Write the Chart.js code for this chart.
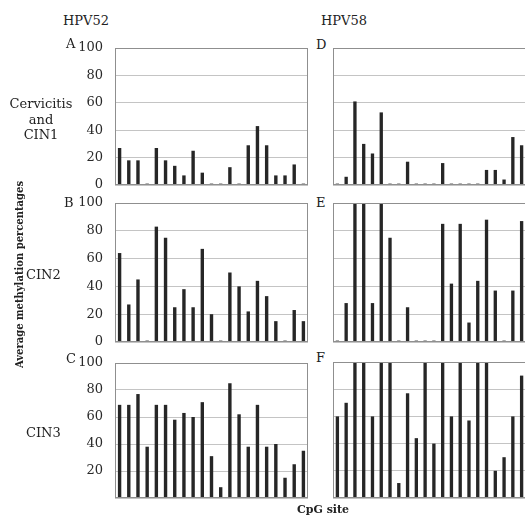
<!DOCTYPE html>
<html>
<head>
<meta charset="utf-8">
<script src="https://cdn.jsdelivr.net/npm/chart.js@4.4.1/dist/chart.umd.min.js"></script>
<style>
  html, body { margin: 0; padding: 0; background: #ffffff; }
  body { width: 525px; height: 515px; position: relative; overflow: hidden; font-family: 'DejaVu Serif', serif; color: #222; }
  .cv { position: absolute; }
  .t { position: absolute; font-size: 13px; white-space: nowrap; line-height: 1; }
  .b { font-weight: bold; font-size: 11px; }
</style>
</head>
<body>
<canvas id="cA" class="cv"></canvas>
<canvas id="cB" class="cv"></canvas>
<canvas id="cC" class="cv"></canvas>
<canvas id="cD" class="cv"></canvas>
<canvas id="cE" class="cv"></canvas>
<canvas id="cF" class="cv"></canvas>

<div class="t" style="left:63px;top:14px;">HPV52</div>
<div class="t" style="left:321px;top:14px;">HPV58</div>
<div class="t" style="left:66px;top:37px;">A</div>
<div class="t" style="left:64px;top:196px;">B</div>
<div class="t" style="left:66px;top:352px;">C</div>
<div class="t" style="left:316px;top:38px;">D</div>
<div class="t" style="left:316px;top:196px;">E</div>
<div class="t" style="left:316px;top:351px;">F</div>
<div class="t" style="left:0px;width:82px;top:96px;text-align:center;line-height:15.5px;">Cervicitis<br>and<br>CIN1</div>
<div class="t" style="left:26px;top:268px;">CIN2</div>
<div class="t" style="left:26px;top:426px;">CIN3</div>
<div id="ytitle" class="t b" style="left:19px;top:274px;">Average methylation percentages</div>
<div id="xtitle" class="t b" style="left:297px;top:504px;">CpG site</div>

<script>
// ---- data ----
const sitesHPV52 = ['1','2','3','4','5','6','7','8','9','10','11','12','13','14','15','16','17','18','19','20','21'];
const sitesHPV58 = ['1','2','3','4','5','6','7','8','9','10','11','12','13','14','15','16','17','18','19','20','21','22'];
const yTicks = [0, 20, 40, 60, 80, 100];

const hpv52CervicitisCIN1 = [27, 18, 18, 1, 27, 18, 14, 7, 25, 9, 1, 1, 13, 1, 29, 43, 29, 7, 7, 15, 1];
const hpv52CIN2 = [64, 27, 45, 1, 83, 75, 25, 38, 25, 67, 20, 1, 50, 40, 22, 44, 33, 15, 1, 23, 15];
const hpv52CIN3 = [69, 69, 77, 38, 69, 69, 58, 63, 60, 71, 31, 8, 85, 62, 38, 69, 38, 40, 15, 25, 35];

const hpv58CervicitisCIN1 = [1, 6, 61, 30, 23, 53, 1, 1, 17, 1, 1, 1, 16, 1, 1, 1, 1, 11, 11, 4, 35, 29];
const hpv58CIN2 = [1, 28, 100, 100, 28, 100, 75, 1, 25, 1, 1, 1, 85, 42, 85, 14, 44, 88, 37, 1, 37, 87];
const hpv58CIN3 = [60, 70, 100, 100, 60, 100, 100, 11, 77, 44, 100, 40, 100, 60, 100, 57, 100, 100, 20, 30, 60, 90];

// ---- drawing ----
const BAR = '#262626';
const FRAME = '#8f8f8f';
const GRID = '#c4c4c4';

const framePlugin = {
  id: 'frame',
  afterDraw(chart) {
    const a = chart.chartArea, ctx = chart.ctx;
    ctx.save();
    ctx.strokeStyle = FRAME;
    ctx.lineWidth = 1;
    const l = Math.round(a.left) + 0.5, t = Math.round(a.top) + 0.5;
    const r = Math.round(a.right) - 0.5, b = Math.round(a.bottom) - 0.5;
    ctx.strokeRect(l, t, r - l, b - t);
    ctx.restore();
  }
};

function makePanel(id, box, labels, values, opts) {
  const cv = document.getElementById(id);
  cv.style.left = box.left + 'px';
  cv.style.top = box.top + 'px';
  cv.width = box.width; cv.height = box.height;
  cv.style.width = box.width + 'px'; cv.style.height = box.height + 'px';
  new Chart(cv, {
    type: 'bar',
    data: {
      labels: labels,
      datasets: [{ data: values, backgroundColor: BAR, borderWidth: 0,
                   barPercentage: opts.barPct, categoryPercentage: 1.0 }]
    },
    options: {
      responsive: false,
      animation: false,
      events: [],
      layout: { padding: box.pad },
      plugins: { legend: { display: false }, tooltip: { enabled: false } },
      scales: {
        x: { display: false },
        y: {
          min: 0, max: 100,
          afterBuildTicks(scale) { scale.ticks = yTicks.map(v => ({ value: v })); },
          afterFit(scale) { scale.width = opts.axisWidth; scale.paddingTop = 0; scale.paddingBottom = 0; },
          grid: { color: GRID, drawTicks: false, lineWidth: 1 },
          border: { display: false },
          ticks: {
            display: opts.showTicks,
            padding: 12,
            color: '#2a2a2a',
            font: { family: 'DejaVu Serif', size: 13 },
            callback: (v) => (opts.hideZero && v === 0) ? '' : String(v)
          }
        }
      }
    },
    plugins: [framePlugin]
  });
}

const leftPad = { top: 10, bottom: 8, left: 0, right: 2 };
const rightPad = { top: 10, bottom: 8, left: 3, right: 4 };

makePanel('cA', { left: 60, top: 38, width: 250, height: 155, pad: leftPad }, sitesHPV52, hpv52CervicitisCIN1,
  { barPct: 0.37, axisWidth: 55, showTicks: true, hideZero: false });
makePanel('cB', { left: 60, top: 193, width: 250, height: 157, pad: leftPad }, sitesHPV52, hpv52CIN2,
  { barPct: 0.37, axisWidth: 55, showTicks: true, hideZero: false });
makePanel('cC', { left: 60, top: 353, width: 250, height: 153, pad: leftPad }, sitesHPV52, hpv52CIN3,
  { barPct: 0.37, axisWidth: 55, showTicks: true, hideZero: true });

makePanel('cD', { left: 330, top: 38, width: 200, height: 155, pad: rightPad }, sitesHPV58, hpv58CervicitisCIN1,
  { barPct: 0.38, axisWidth: 0, showTicks: false, hideZero: false });
makePanel('cE', { left: 330, top: 193, width: 200, height: 157, pad: rightPad }, sitesHPV58, hpv58CIN2,
  { barPct: 0.38, axisWidth: 0, showTicks: false, hideZero: false });
makePanel('cF', { left: 330, top: 352, width: 200, height: 154, pad: rightPad }, sitesHPV58, hpv58CIN3,
  { barPct: 0.38, axisWidth: 0, showTicks: false, hideZero: false });

// rotated y title centred at (19, 274), fitted to ~187px length
(function () {
  const el = document.getElementById('ytitle');
  const w = el.offsetWidth, h = el.offsetHeight;
  const s = 187 / w;
  el.style.left = (19 - w / 2) + 'px';
  el.style.top = (274 - h / 2) + 'px';
  el.style.transformOrigin = '50% 50%';
  el.style.transform = 'rotate(-90deg) scaleX(' + s.toFixed(3) + ')';
})();
</script>
</body>
</html>
